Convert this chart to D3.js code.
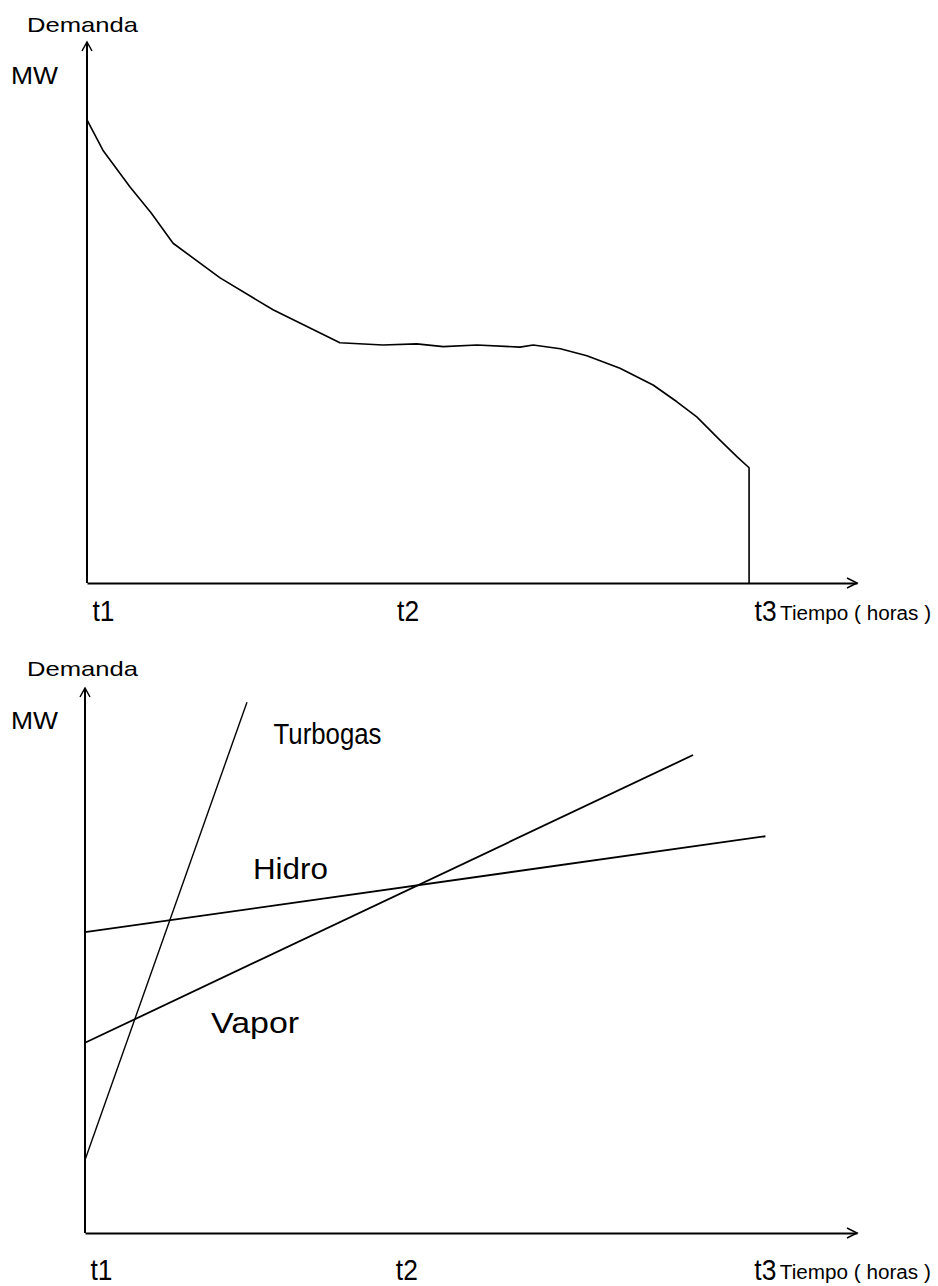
<!DOCTYPE html>
<html>
<head>
<meta charset="utf-8">
<script src="https://cdn.jsdelivr.net/npm/d3@7"></script>
<style>
  body { margin: 0; background: #fff; }
  svg { display: block; }
  text { font-family: "Liberation Sans", Arial, sans-serif; fill: #000; }
</style>
</head>
<body>
<div id="chart"></div>
<script>
// eje de tiempo (t3 = 1)
const tickTimes = [0, 0.46, 1];
const tickLabels = ["t1", "t2", "t3"];

// curva de demanda (grafico superior)
const demandT  = [0, 0.024, 0.065, 0.097, 0.130, 0.201, 0.281, 0.382, 0.447, 0.498, 0.538, 0.589, 0.654, 0.674, 0.715, 0.755, 0.805, 0.855, 0.891, 0.921, 0.956, 0.982, 1.0, 1.0];
const demandMW = [85.6, 80.0, 73.2, 68.4, 62.8, 56.4, 50.5, 44.4, 44.0, 44.2, 43.7, 44.0, 43.6, 44.0, 43.3, 42.0, 39.7, 36.6, 33.5, 30.7, 26.4, 23.3, 21.3, 0];

// rectas de costo (grafico inferior)
const plants    = ["Turbogas", "Hidro", "Vapor"];
const lineStart = [[0, 13.4], [0, 55.2], [0, 34.9]];
const lineEnd   = [[0.244, 97.4], [1.025, 72.8], [0.916, 87.7]];
const labelPos  = [[0.284, 89.7], [0.253, 65.0], [0.190, 36.7]];

const width = 938, height = 1286;
const svg = d3.select("#chart").append("svg")
  .attr("width", width)
  .attr("height", height);

function arrowUp(g, x, y) {
  g.append("path")
    .attr("d", `M${x - 5},${y + 9} L${x},${y} L${x + 5},${y + 9}`)
    .attr("fill", "none").attr("stroke", "#000").attr("stroke-width", 1.5);
}
function arrowRight(g, x, y) {
  g.append("path")
    .attr("d", `M${x - 10},${y - 5} L${x},${y} L${x - 10},${y + 5}`)
    .attr("fill", "none").attr("stroke", "#000").attr("stroke-width", 1.5);
}

// ejes con flechas y etiquetas
function drawFrame(g, x, y, top, labelBase, demandaY, mwY) {
  const x0 = x.range()[0], x1 = x.range()[1];
  const y0 = y.range()[0];

  g.append("line")
    .attr("x1", x0).attr("y1", y0).attr("x2", x0).attr("y2", top)
    .attr("stroke", "#000").attr("stroke-width", 2);
  arrowUp(g, x0, top);

  const ax = g.append("g")
    .attr("transform", `translate(0,${y0})`)
    .call(d3.axisBottom(x).tickValues(tickTimes)
      .tickFormat((d, i) => tickLabels[i]).tickSize(0).tickPadding(0));
  ax.select(".domain").attr("stroke", "#000").attr("stroke-width", 2);
  ax.selectAll(".tick text")
    .attr("text-anchor", "start")
    .attr("dx", 5)
    .attr("dy", null)
    .attr("y", labelBase - y0)
    .style("font-size", "30px")
    .style("font-family", "Liberation Sans, Arial, sans-serif")
    .attr("fill", "#000")
    .attr("textLength", 22)
    .attr("lengthAdjust", "spacingAndGlyphs");
  arrowRight(g, x1, y0);

  g.append("text")
    .attr("x", x(1) + 31).attr("y", labelBase - 1)
    .style("font-size", "20px")
    .attr("textLength", 151).attr("lengthAdjust", "spacingAndGlyphs")
    .text("Tiempo ( horas )");

  g.append("text")
    .attr("x", 27).attr("y", demandaY)
    .style("font-size", "21px")
    .attr("textLength", 111).attr("lengthAdjust", "spacingAndGlyphs")
    .text("Demanda");

  g.append("text")
    .attr("x", 11).attr("y", mwY)
    .style("font-size", "24px")
    .attr("textLength", 47).attr("lengthAdjust", "spacingAndGlyphs")
    .text("MW");
}

// grafico superior: curva de demanda
const xTop = d3.scaleLinear().domain([0, 1.163]).range([87, 857]);
const yTop = d3.scaleLinear().domain([0, 100]).range([583, 42]);
const gTop = svg.append("g");
drawFrame(gTop, xTop, yTop, 42, 621, 32, 84);

const demand = demandT.map((t, i) => [t, demandMW[i]]);
gTop.append("path")
  .datum(demand)
  .attr("fill", "none")
  .attr("stroke", "#000")
  .attr("stroke-width", 1.6)
  .attr("stroke-linejoin", "round")
  .attr("d", d3.line().x(d => xTop(d[0])).y(d => yTop(d[1])));

// grafico inferior: rectas
const xBot = d3.scaleLinear().domain([0, 1.163]).range([85, 857]);
const yBot = d3.scaleLinear().domain([0, 100]).range([1233, 688]);
const gBot = svg.append("g");
drawFrame(gBot, xBot, yBot, 688, 1280, 676, 729);

const labelW = [108, 75, 88];
plants.forEach((name, i) => {
  gBot.append("line")
    .attr("x1", xBot(lineStart[i][0])).attr("y1", yBot(lineStart[i][1]))
    .attr("x2", xBot(lineEnd[i][0])).attr("y2", yBot(lineEnd[i][1]))
    .attr("stroke", "#000")
    .attr("stroke-width", name === "Turbogas" ? 1.4 : 1.8);
  gBot.append("text")
    .attr("x", xBot(labelPos[i][0])).attr("y", yBot(labelPos[i][1]))
    .style("font-size", "30px")
    .attr("textLength", labelW[i]).attr("lengthAdjust", "spacingAndGlyphs")
    .text(name);
});
</script>
</body>
</html>
